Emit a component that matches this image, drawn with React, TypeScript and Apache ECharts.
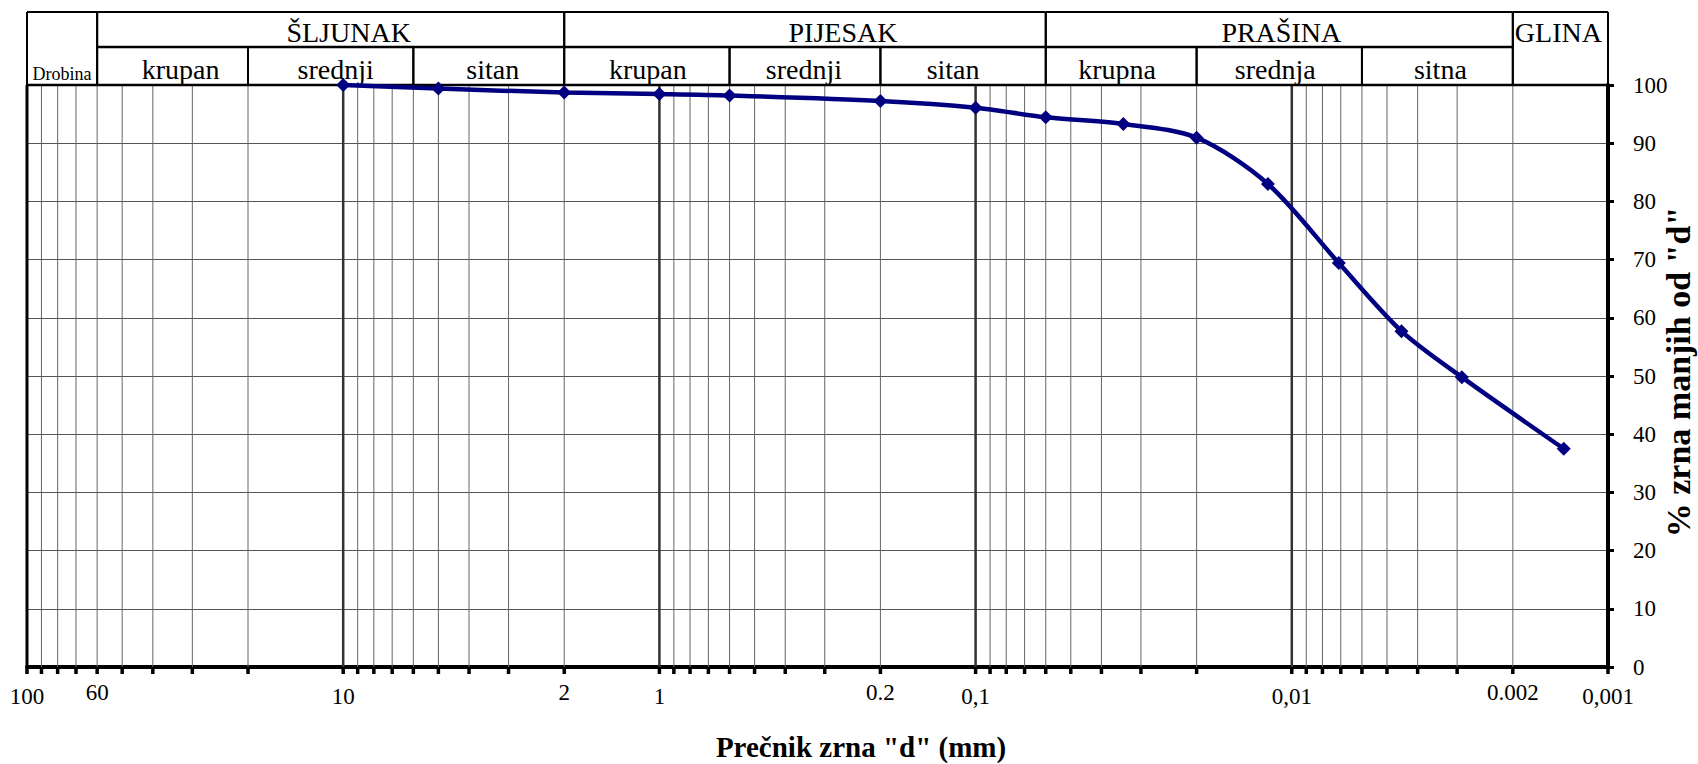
import React, { useEffect, useRef } from "react";
import * as echarts from "echarts";

// ---- data ----
const diameters = [10, 5, 2, 1, 0.6, 0.2, 0.1, 0.06, 0.0341, 0.02, 0.0119, 0.0071, 0.0045, 0.0029, 0.00138];
const passing = [100, 99.4, 98.7, 98.45, 98.2, 97.25, 96.1, 94.45, 93.3, 90.95, 83.0, 69.4, 57.7, 49.8, 37.5];

const decades = [100, 10, 1, 0.1, 0.01, 0.001];
const multipliers = [2, 3, 4, 5, 6, 7, 8, 9];

const xTickValues = [100, 60, 10, 2, 1, 0.2, 0.1, 0.01, 0.002, 0.001];
const xTickTexts = ["100", "60", "10", "2", "1", "0.2", "0,1", "0,01", "0.002", "0,001"];

// header: row 0 = main groups, row 1 = sub groups, row 2 = spans both rows
const headerLabels = ["Drobina", "ŠLJUNAK", "PIJESAK", "PRAŠINA", "GLINA",
  "krupan", "srednji", "sitan", "krupan", "srednji", "sitan", "krupna", "srednja", "sitna"];
const headerFrom = [100, 60, 2, 0.06, 0.002, 60, 20, 6, 2, 0.6, 0.2, 0.06, 0.02, 0.006];
const headerTo = [60, 2, 0.06, 0.002, 0.001, 20, 6, 2, 0.6, 0.2, 0.06, 0.02, 0.006, 0.002];
const headerRow = [2, 0, 0, 0, 2, 1, 1, 1, 1, 1, 1, 1, 1, 1];

const xTitle = 'Prečnik zrna "d" (mm)';
const yTitle = '% zrna manjih od "d"';

const FONT = "'Liberation Serif', 'Times New Roman', serif";

function isDecade(d: number) {
  const l = Math.log10(d);
  return Math.abs(l - Math.round(l)) < 1e-6;
}

export default function App() {
  const ref = useRef<HTMLDivElement>(null);

  useEffect(() => {
    document.body.style.margin = "0";
    const chart = echarts.init(ref.current!, null, { renderer: "svg" });

    const gridValues: number[] = [];
    decades.forEach((dec) => {
      gridValues.push(dec);
      if (dec > 0.001) multipliers.forEach((m) => gridValues.push(+(dec / 10 * m).toPrecision(6)));
    });

    // header label horizontal nudges (px)
    const headerDx = [0, 18, 38, 2, -2, 8, 5, 4, 1, -1, -10, -4, -4, 3];

    const option: any = {
      animation: false,
      backgroundColor: "#fff",
      grid: { left: 27, right: 90, top: 85, bottom: 97, containLabel: false, outerBoundsMode: "none" },
      xAxis: {
        type: "log",
        logBase: 10,
        min: 0.001,
        max: 100,
        inverse: true,
        axisLine: { show: true, onZero: false, lineStyle: { color: "#000", width: 4 } },
        axisTick: { show: false },
        axisLabel: { show: false },
        splitLine: { show: false },
      },
      yAxis: {
        type: "value",
        position: "right",
        min: 0,
        max: 100,
        interval: 10,
        axisLine: { show: true, lineStyle: { color: "#000", width: 4 } },
        axisTick: { show: true, length: 6, lineStyle: { color: "#000", width: 3 } },
        axisLabel: { margin: 25, color: "#000", fontSize: 23, fontFamily: FONT },
        splitLine: { show: true, lineStyle: { color: "#555", width: 1 } },
      },
      graphic: [
        {
          type: "text",
          x: 861,
          y: 747,
          style: {
            text: xTitle,
            fontSize: 29,
            fontWeight: "bold",
            fontFamily: FONT,
            fill: "#000",
            align: "center",
            verticalAlign: "middle",
          },
        },
        {
          type: "text",
          x: 1678,
          y: 372,
          rotation: Math.PI / 2,
          style: {
            text: yTitle,
            fontSize: 34,
            fontWeight: "bold",
            fontFamily: FONT,
            fill: "#000",
            align: "center",
            verticalAlign: "middle",
          },
        },
      ],
      series: [
        {
          type: "custom",
          z: 1,
          silent: true,
          data: gridValues.map((v) => [v, 0]),
          renderItem: (params: any, api: any) => {
            const d = api.value(0);
            const p0 = api.coord([d, 0]);
            const p1 = api.coord([d, 100]);
            const dec = isDecade(d);
            const children: any[] = [];
            if (d === 100) {
              children.push({ type: "line", shape: { x1: p0[0], y1: p0[1], x2: p1[0], y2: p1[1] }, style: { stroke: "#000", lineWidth: 3 } });
            } else if (d > 0.001) {
              children.push({
                type: "line",
                shape: { x1: p0[0], y1: p0[1], x2: p1[0], y2: p1[1] },
                style: { stroke: dec ? "#333" : "#666", lineWidth: dec ? 2.5 : 1 },
              });
            }
            children.push({
              type: "line",
              shape: { x1: p0[0], y1: p0[1], x2: p0[0], y2: p0[1] + 7 },
              style: { stroke: "#000", lineWidth: 3.5 },
            });
            return { type: "group", children };
          },
        },
        {
          type: "custom",
          z: 3,
          silent: true,
          data: xTickValues.map((v) => [v, 0]),
          renderItem: (params: any, api: any) => {
            const d = api.value(0);
            const p0 = api.coord([d, 0]);
            const raised = !isDecade(d);
            return {
              type: "text",
              style: {
                text: xTickTexts[params.dataIndex],
                x: p0[0],
                y: p0[1] + (raised ? 25 : 29),
                align: "center",
                verticalAlign: "middle",
                fontSize: 23,
                fontFamily: FONT,
                fill: "#000",
              },
            };
          },
        },
        {
          type: "custom",
          z: 3,
          silent: true,
          data: headerLabels.map((_, i) => [headerFrom[i], 100]),
          renderItem: (params: any, api: any) => {
            const i = params.dataIndex;
            const xa = api.coord([headerFrom[i], 100])[0];
            const xb = api.coord([headerTo[i], 100])[0];
            const yTop = api.coord([headerFrom[i], 100])[1];
            const row = headerRow[i];
            const yA = row === 1 ? yTop - 38 : yTop - 73;
            const yB = row === 0 ? yTop - 38 : yTop;
            const line = (x1: number, y1: number, x2: number, y2: number, w: number) => ({
              type: "line",
              shape: { x1, y1, x2, y2 },
              style: { stroke: "#000", lineWidth: w },
            });
            let ty = row === 0 ? yTop - 53 : yTop - 16;
            let fs = 28;
            if (headerLabels[i] === "Drobina") { ty = yTop - 11; fs = 18; }
            if (headerLabels[i] === "GLINA") { ty = yTop - 53; }
            return {
              type: "group",
              children: [
                line(xa, yA, xb, yA, 2),
                line(xa, yB, xb, yB, 2.5),
                line(xa, yA, xa, yB, 2),
                line(xb, yA, xb, yB, 2),
                {
                  type: "text",
                  style: {
                    text: headerLabels[i],
                    x: (xa + xb) / 2 + headerDx[i],
                    y: ty,
                    align: "center",
                    verticalAlign: "middle",
                    fontSize: fs,
                    fontFamily: FONT,
                    fill: "#000",
                  },
                },
              ],
            };
          },
        },
        {
          type: "line",
          z: 10,
          data: diameters.map((d, i) => [d, passing[i]]),
          smooth: 0.3,
          symbol: "diamond",
          symbolSize: 14,
          lineStyle: { color: "#000080", width: 4.5 },
          itemStyle: { color: "#000080" },
        },
      ],
    };

    chart.setOption(option);
    return () => chart.dispose();
  }, []);

  return <div ref={ref} style={{ width: 1698, height: 764 }} />;
}
